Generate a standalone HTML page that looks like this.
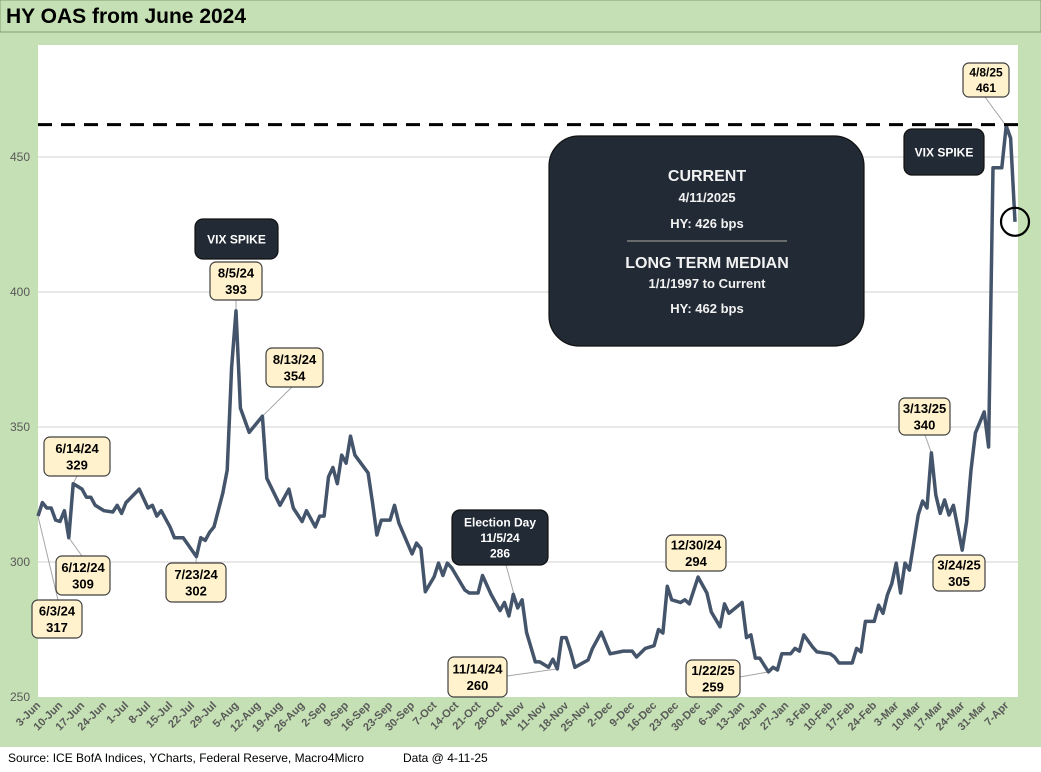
<!DOCTYPE html>
<html><head><meta charset="utf-8">
<style>
body{margin:0;background:#fff;font-family:"Liberation Sans",sans-serif;}
#wrap{position:relative;width:1041px;height:772px;overflow:hidden;}
</style></head>
<body>
<div id="wrap">
<svg id="chart" width="1041" height="772" xmlns="http://www.w3.org/2000/svg">
  <rect x="0" y="0" width="1041" height="747" fill="#c5e0b4"/>
  <rect x="0" y="0" width="1041" height="32" fill="#c5e0b4" stroke="#7f9f6f" stroke-width="1"/>
  <text x="6" y="23" font-size="21" font-weight="bold" fill="#000">HY OAS from June 2024</text>
  <rect x="38" y="45" width="980" height="652" fill="#fff"/>
  <g id="grid"></g>
  <g id="yticks"></g>
  <g id="xticks"></g>
  <g id="annots"></g>
  <path id="line" fill="none" stroke="#44546a" stroke-width="3.5" stroke-linejoin="round"/>
  <g id="overlay"></g>
  <text x="8" y="762" font-size="12" fill="#000">Source: ICE BofA Indices, YCharts, Federal Reserve, Macro4Micro</text>
  <text x="403" y="762" font-size="12" fill="#000">Data @ 4-11-25</text>
</svg>
</div>
<script>
const dayIdx=[0,1,2,3,4,5,6,7,8,9,10,11,12,13,15,17,18,19,20,23,25,26,27,28,30,31,33,36,37,38,39,40,42,43,44,45,46,48,51,52,55,57,58,60,61,63,64,65,66,67,68,69,70,71,72,75,76,77,78,80,81,82,85,86,87,88,90,91,92,93,94,97,98,100,101,103,105,106,107,108,109,110,111,113,114,116,117,118,119,120,121,122,125,126,128,130,133,135,136,138,140,141,142,143,144,146,147,148,150,152,153,155,156,157,160,161,162,163,164,166,167,168,169,171,172,173,174,176,177,180,181,182,185,186,187,188,190,191,192,193,194,195,196,197,198,200,201,202,203,204,205,206,207,208,210,211,212,213,215,216,217,219,220,221,222];
const values=[317,322,320,320,315.5,315,319,309,329,328,327,324,324,321,319,318.5,321,318,322,327,320,321,317,319,313,309,309,302,309,308,311,313,325.5,334,372,393,357,348,354,331,321,327,320,315,319,313,317,317,331.5,335,329,339.6,336.6,346.6,339.6,333,322,310,315.5,315.5,321,314.4,303,307,305,289,294.5,299.6,295,299.6,297.8,289.6,288.5,288.5,295,287.8,282,285,280,288,283,286,274,263,263,261,264,260.4,272,272,267,261,263.7,268,274,266,267,267,264.8,268,269,275,273.7,291,286,285,286,284.5,294.4,288.5,281.5,276,284.5,281,285,272,273,264.4,264.4,259.3,261,260,266,266,268,267,273,268.5,266.7,266,264.8,262.6,262.6,268,266.7,278,278,284,281,287.8,292,299.6,288.5,299.6,297,317.4,322.6,320,340.4,324.8,318,323,317.4,321,304.4,315,334,347.8,355.6,342.6,446,446,461.5,457,426];
const xLabels=["3-Jun","10-Jun","17-Jun","24-Jun","1-Jul","8-Jul","15-Jul","22-Jul","29-Jul","5-Aug","12-Aug","19-Aug","26-Aug","2-Sep","9-Sep","16-Sep","23-Sep","30-Sep","7-Oct","14-Oct","21-Oct","28-Oct","4-Nov","11-Nov","18-Nov","25-Nov","2-Dec","9-Dec","16-Dec","23-Dec","30-Dec","6-Jan","13-Jan","20-Jan","27-Jan","3-Feb","10-Feb","17-Feb","24-Feb","3-Mar","10-Mar","17-Mar","24-Mar","31-Mar","7-Apr"];
const yTicks=[250,300,350,400,450];
const medianValue=[462];

const NS="http://www.w3.org/2000/svg";
const X0=38,X1=1015,DMAX=222,Y0=697,PXPB=2.7;
function xs(d){return X0+d*(X1-X0)/DMAX;}
function ys(v){return Y0-(v-250)*PXPB;}
function mk(tag,attrs,parent){const e=document.createElementNS(NS,tag);for(const k in attrs)e.setAttribute(k,attrs[k]);parent.appendChild(e);return e;}

const grid=document.getElementById('grid'),yt=document.getElementById('yticks'),xt=document.getElementById('xticks');
yTicks.forEach(v=>{
  if(v>250){const g=mk('line',{x1:38,x2:1018,y1:ys(v),y2:ys(v),stroke:'#d9d9d9','stroke-width':1.3},grid);
  
  }
  const t=mk('text',{x:10,y:ys(v)+4,'font-size':12,fill:'#595959'},yt);
  t.textContent=v;
  
  
});
xLabels.forEach((l,k)=>{
  const x=xs(k*5)+3;
  const t=mk('text',{x:x,y:706,'font-size':11,'font-weight':'bold',fill:'#595959','text-anchor':'end',transform:`rotate(-45 ${x} 706)`},xt);
  t.textContent=l;
  
  
});
let d='';
dayIdx.forEach((di,i)=>{d+=(i?'L':'M')+xs(di).toFixed(1)+' '+ys(values[i]).toFixed(1)+' ';});
document.getElementById('line').setAttribute('d',d);

const ov=document.getElementById('overlay');
const dl=mk('line',{x1:38,x2:1018,y1:ys(medianValue[0]),y2:ys(medianValue[0]),stroke:'#000','stroke-width':3,'stroke-dasharray':'14 9'},ov);


const last=dayIdx.length-1;
const c=mk('circle',{cx:xs(dayIdx[last]),cy:ys(values[last]),r:14,fill:'none',stroke:'#000','stroke-width':2.2},ov);



const an=document.getElementById('annots');
function leader(x1,y1,x2,y2){const l=mk('line',{x1,y1,x2,y2,stroke:'#a6a6a6','stroke-width':1},an);

}
function box(x,y,w,h,lines,dark,name,fs){
  const g=mk('g',{},ov);
  
  
  mk('rect',{x,y,width:w,height:h,rx:dark?8:6,fill:dark?'#222a35':'#fff2cc',stroke:dark?'#111':'#404040','stroke-width':1.2},g);
  const lh=fs+3.5, start=y+h/2-(lines.length-1)*lh/2+fs*0.36;
  lines.forEach((s,i)=>{const t=mk('text',{x:x+w/2,y:start+i*lh,'font-size':fs,'font-weight':'bold','text-anchor':'middle',fill:dark?'#fff':'#000'},g);t.textContent=s;});
}
function pt(idxVal){const i=dayIdx.indexOf(idxVal);return [xs(idxVal),ys(values[i])];}
let p;
p=pt(0);leader(p[0],p[1],58,600);
p=pt(7);leader(p[0],p[1],82,556);
p=pt(51);leader(p[0],p[1],293,386);
p=pt(109);leader(p[0],p[1],506,565);
p=pt(118);leader(p[0],p[1],507,676);
p=pt(166);leader(p[0],p[1],740,677);
p=pt(220);leader(p[0],p[1],985,97);
p=pt(203);leader(p[0],p[1],925,435);
p=pt(8);leader(p[0],p[1],77,476);
p=pt(36);leader(p[0],p[1],196,563);
p=pt(45);leader(p[0],p[1],236,300);

box(32,600,50,38,['6/3/24','317'],false,'callout-6-3-24',13);
box(56,556,54,39,['6/12/24','309'],false,'callout-6-12-24',13);
box(44,437,66,39,['6/14/24','329'],false,'callout-6-14-24',13);
box(166,563,60,39,['7/23/24','302'],false,'callout-7-23-24',13);
box(210,262,52,38,['8/5/24','393'],false,'callout-8-5-24',13);
box(266,348,57,39,['8/13/24','354'],false,'callout-8-13-24',13);
box(195,219,83,40,['VIX SPIKE'],true,'vix-spike-label-aug',12);
box(452,510,96,55,['Election Day','11/5/24','286'],true,'callout-election-day',12);
box(448,657,59,40,['11/14/24','260'],false,'callout-11-14-24',13);
box(666,535,60,36,['12/30/24','294'],false,'callout-12-30-24',13);
box(686,660,54,37,['1/22/25','259'],false,'callout-1-22-25',13);
box(899,398,51,37,['3/13/25','340'],false,'callout-3-13-25',13);
box(933,555,52,36,['3/24/25','305'],false,'callout-3-24-25',13);
box(963,63,46,34,['4/8/25','461'],false,'callout-4-8-25',12);
box(904,129,80,46,['VIX SPIKE'],true,'vix-spike-label-apr',12);

const g=mk('g',{},ov);


mk('rect',{x:549,y:136,width:315,height:210,rx:30,fill:'#222a35',stroke:'#111','stroke-width':1.2},g);
[['CURRENT',181,16],['4/11/2025',202,13],['HY:  426 bps',228,13],['LONG TERM MEDIAN',268,16],['1/1/1997 to Current',288,13],['HY: 462 bps',313,13]].forEach(a=>{
  const t=mk('text',{x:707,y:a[1],'font-size':a[2],'font-weight':'bold','text-anchor':'middle',fill:'#f2f2f2'},g);t.textContent=a[0];});
mk('line',{x1:627,x2:787,y1:241,y2:241,stroke:'#7f7f7f','stroke-width':1.5},g);
</script>
</body></html>
